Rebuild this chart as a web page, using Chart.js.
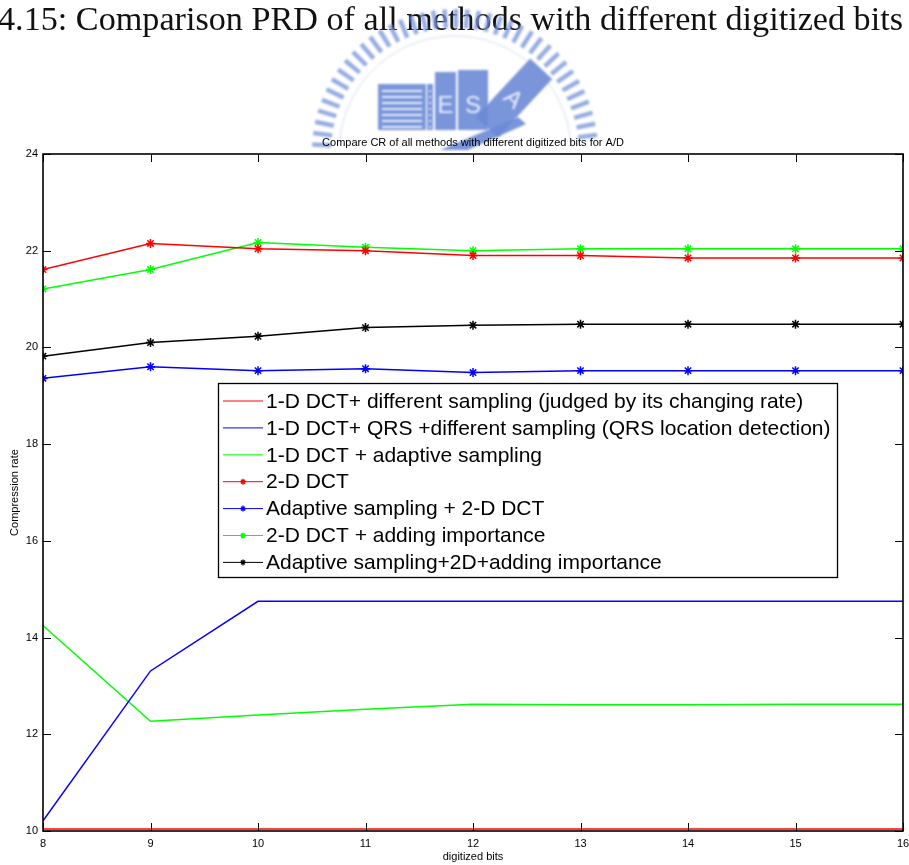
<!DOCTYPE html>
<html>
<head>
<meta charset="utf-8">
<title>Compare CR of all methods with different digitized bits for A/D</title>
<script src="https://cdn.jsdelivr.net/npm/chart.js@4.4.1/dist/chart.umd.min.js"></script>
<style>
    html, body { margin: 0; padding: 0; background: #fff; }
    #crChart { display: block; }
</style>
</head>
<body>
<canvas id="crChart" width="909" height="865"></canvas>
<script>
// Compression rate versus number of A/D bits, one series per method
const bits = [8, 9, 10, 11, 12, 13, 14, 15, 16];
const yTicks = [10, 12, 14, 16, 18, 20, 22, 24];

const dct1dRate = [10.04, 10.04, 10.04, 10.04, 10.04, 10.04, 10.04, 10.04, 10.04];
const dct1dQrs = [10.21, 13.31, 14.75, 14.75, 14.75, 14.75, 14.75, 14.75, 14.75];
const dct1dAdaptive = [14.25, 12.27, 12.40, 12.52, 12.62, 12.61, 12.61, 12.62, 12.62];
const dct2d = [21.61, 22.15, 22.04, 22.00, 21.90, 21.90, 21.85, 21.85, 21.85];
const adaptive2d = [19.36, 19.60, 19.52, 19.56, 19.48, 19.52, 19.52, 19.52, 19.52];
const dct2dImportance = [21.21, 21.61, 22.17, 22.07, 22.00, 22.04, 22.04, 22.04, 22.04];
const adaptive2dImportance = [19.82, 20.10, 20.23, 20.41, 20.46, 20.48, 20.48, 20.48, 20.48];

const seriesLabels = [
    '1-D DCT+ different sampling (judged by its changing rate)',
    '1-D DCT+ QRS +different sampling (QRS location detection)',
    '1-D DCT + adaptive sampling',
    '2-D DCT',
    'Adaptive sampling + 2-D DCT',
    '2-D DCT + adding importance',
    'Adaptive sampling+2D+adding importance'
];

const chartTitle = 'Compare CR of all methods with different digitized bits for A/D';
const pageCaption = '4.15: Comparison PRD of all methods with different digitized bits';

const FONT = '"Liberation Sans", Arial, sans-serif';

function series(values, color, starred) {
    return {
        data: bits.map((b, i) => ({ x: b, y: values[i] })),
        borderColor: color,
        backgroundColor: color,
        borderWidth: 1.5,
        pointStyle: 'star',
        pointRadius: starred ? 4.5 : 0,
        pointHoverRadius: starred ? 4.5 : 0,
        pointBorderWidth: 1.5,
        pointBorderColor: color,
        tension: 0,
        starred: starred
    };
}

const datasets = [
    series(dct1dRate, '#ff0000', false),
    series(dct1dQrs, '#0000ff', false),
    series(dct1dAdaptive, '#00ff00', false),
    series(dct2d, '#ff0000', true),
    series(adaptive2d, '#0000ff', true),
    series(dct2dImportance, '#00ff00', true),
    series(adaptive2dImportance, '#000000', true)
];
datasets.forEach((d, i) => { d.label = seriesLabels[i]; });

// caption line and the faded logo behind the plot
const pageDecor = {
    id: 'pageDecor',
    beforeDraw(chart) {
        const ctx = chart.ctx;
        ctx.save();

        ctx.font = '34px "Liberation Serif", "Times New Roman", serif';
        ctx.fillStyle = '#111';
        ctx.textBaseline = 'alphabetic';
        const w = ctx.measureText(pageCaption).width;
        ctx.translate(-2, 30);
        ctx.scale(905 / w, 1);
        ctx.fillText(pageCaption, 0, 0);
        ctx.setTransform(1, 0, 0, 1, 0, 0);

        ctx.filter = 'blur(0.8px)';
        const blue = 'rgba(108, 138, 214, 0.9)';
        const pale = 'rgba(240, 244, 255, 0.95)';
        const cx = 455, cy = 152;

        // ring of short rays
        ctx.strokeStyle = 'rgba(125, 154, 220, 0.8)';
        ctx.lineWidth = 4.5;
        for (let a = 183; a <= 357; a += 4.6) {
            const t = a * Math.PI / 180;
            ctx.beginPath();
            ctx.moveTo(cx + 124 * Math.cos(t), cy + 124 * Math.sin(t));
            ctx.lineTo(cx + 143 * Math.cos(t), cy + 143 * Math.sin(t));
            ctx.stroke();
        }
        ctx.strokeStyle = 'rgba(170, 188, 232, 0.5)';
        ctx.lineWidth = 1;
        ctx.beginPath();
        ctx.arc(cx, cy, 116, Math.PI * 1.02, Math.PI * 1.98);
        ctx.stroke();

        // striped block
        ctx.fillStyle = blue;
        ctx.fillRect(378, 84, 48, 46);
        ctx.fillStyle = pale;
        for (let y = 90; y < 128; y += 6) ctx.fillRect(382, y, 40, 2);
        ctx.fillStyle = blue;
        ctx.fillRect(427, 84, 6, 46);
        ctx.fillStyle = pale;
        for (let y = 90; y < 128; y += 6) ctx.fillRect(429, y, 2, 2);

        // letter blocks
        ctx.fillStyle = blue;
        ctx.fillRect(435, 72, 21, 58);
        ctx.fillRect(458, 70, 30, 60);
        ctx.fillStyle = pale;
        ctx.font = '24px ' + FONT;
        ctx.textAlign = 'center';
        ctx.textBaseline = 'middle';
        ctx.fillText('E', 445.5, 106);
        ctx.fillText('S', 473, 106);

        ctx.save();
        ctx.translate(514, 98);
        ctx.rotate(Math.PI / 4.2);
        ctx.fillStyle = blue;
        ctx.fillRect(-15, -40, 30, 80);
        ctx.fillStyle = pale;
        ctx.fillText('A', 0, 2);
        ctx.restore();

        ctx.fillStyle = blue;
        ctx.beginPath();
        ctx.moveTo(440, 150);
        ctx.lineTo(468, 150);
        ctx.lineTo(526, 124);
        ctx.lineTo(518, 117);
        ctx.closePath();
        ctx.fill();

        ctx.restore();
    }
};

// MATLAB style frame: closed box, inward ticks, chart title, legend box
const matlabFrame = {
    id: 'matlabFrame',
    afterDatasetsDraw(chart) {
        const ctx = chart.ctx;
        const a = chart.chartArea;
        const xs = chart.scales.x;
        const ys = chart.scales.y;
        ctx.save();

        ctx.strokeStyle = '#000';
        ctx.lineWidth = 1;
        const tick = 8;
        bits.forEach(v => {
            const px = Math.round(xs.getPixelForValue(v)) + 0.5;
            ctx.beginPath();
            ctx.moveTo(px, a.bottom); ctx.lineTo(px, a.bottom - tick);
            ctx.moveTo(px, a.top); ctx.lineTo(px, a.top + tick);
            ctx.stroke();
        });
        yTicks.forEach(v => {
            const py = Math.round(ys.getPixelForValue(v)) + 0.5;
            ctx.beginPath();
            ctx.moveTo(a.left, py); ctx.lineTo(a.left + tick, py);
            ctx.moveTo(a.right, py); ctx.lineTo(a.right - tick, py);
            ctx.stroke();
        });
        ctx.lineWidth = 1.6;
        ctx.strokeRect(a.left, a.top, a.right - a.left, a.bottom - a.top);

        ctx.fillStyle = '#000';
        ctx.font = '11px ' + FONT;
        ctx.textAlign = 'center';
        ctx.textBaseline = 'middle';
        ctx.fillText(chartTitle, 473, 143);

        // legend
        const lx = 218, ly = 383, lw = 619, lh = 194;
        ctx.fillStyle = '#fff';
        ctx.fillRect(lx, ly, lw, lh);
        ctx.lineWidth = 1.3;
        ctx.strokeStyle = '#000';
        ctx.strokeRect(lx + 0.5, ly + 0.5, lw, lh);

        ctx.font = '21px ' + FONT;
        ctx.textAlign = 'left';
        chart.data.datasets.forEach((d, i) => {
            const y = ly + 18 + i * 26.9;
            ctx.strokeStyle = d.borderColor;
            ctx.lineWidth = 1;
            ctx.beginPath();
            ctx.moveTo(223, y); ctx.lineTo(263, y);
            ctx.stroke();
            if (d.starred) {
                ctx.lineWidth = 1.3;
                ctx.beginPath();
                ctx.moveTo(243, y - 3); ctx.lineTo(243, y + 3);
                ctx.moveTo(240, y); ctx.lineTo(246, y);
                ctx.moveTo(241, y - 2); ctx.lineTo(245, y + 2);
                ctx.moveTo(245, y - 2); ctx.lineTo(241, y + 2);
                ctx.stroke();
            }
            ctx.fillStyle = '#000';
            ctx.fillText(d.label, 266, y + 1);
        });

        ctx.restore();
    }
};

new Chart(document.getElementById('crChart'), {
    type: 'line',
    data: { datasets: datasets },
    options: {
        responsive: false,
        animation: false,
        devicePixelRatio: 1,
        layout: { padding: { top: 154, right: -3, left: 0, bottom: 0 } },
        plugins: {
            legend: { display: false },
            tooltip: { enabled: false },
            title: { display: false }
        },
        scales: {
            x: {
                type: 'linear',
                min: 8,
                max: 16,
                grid: { display: false, drawTicks: false },
                border: { display: false },
                ticks: {
                    stepSize: 1,
                    color: '#000',
                    padding: 6,
                    font: { family: FONT, size: 11 }
                },
                title: {
                    display: true,
                    text: 'digitized bits',
                    color: '#000',
                    padding: { top: 0, bottom: 1 },
                    font: { family: FONT, size: 11 }
                },
                afterFit(scale) {
                    scale.height = 34;
                    scale.paddingLeft = 0;
                    scale.paddingRight = 0;
                }
            },
            y: {
                min: 10,
                max: 24,
                grid: { display: false, drawTicks: false },
                border: { display: false },
                ticks: {
                    stepSize: 2,
                    color: '#000',
                    padding: 5,
                    font: { family: FONT, size: 11 }
                },
                title: {
                    display: true,
                    text: 'Compression rate',
                    color: '#000',
                    padding: { top: 8, bottom: 0 },
                    font: { family: FONT, size: 11 }
                },
                afterFit(scale) {
                    scale.width = 43;
                    scale.paddingTop = 0;
                    scale.paddingBottom = 0;
                }
            }
        }
    },
    plugins: [pageDecor, matlabFrame]
});
</script>
</body>
</html>
